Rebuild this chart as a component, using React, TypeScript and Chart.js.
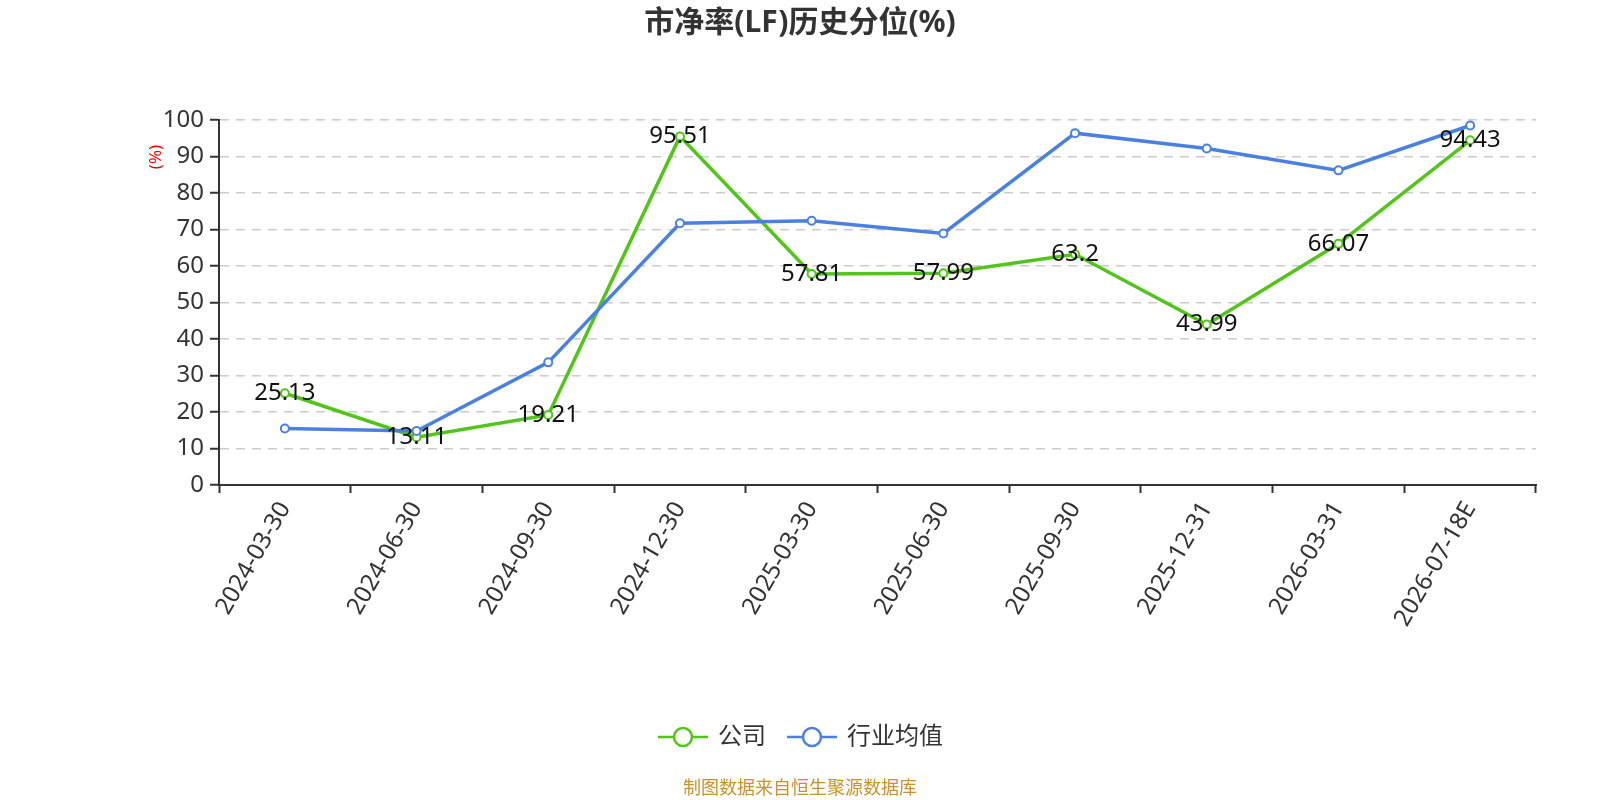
import { useEffect, useRef } from "react"
import { Chart, registerables } from "chart.js"

Chart.register(...registerables)

const categories = [
  "2024-03-30",
  "2024-06-30",
  "2024-09-30",
  "2024-12-30",
  "2025-03-30",
  "2025-06-30",
  "2025-09-30",
  "2025-12-31",
  "2026-03-31",
  "2026-07-18E",
]
const companyValues = [25.13, 13.11, 19.21, 95.51, 57.81, 57.99, 63.2, 43.99, 66.07, 94.43]
const industryValues = [15.5, 14.8, 33.6, 71.7, 72.4, 68.9, 96.4, 92.2, 86.2, 98.5]
const seriesNames = ["公司", "行业均值"]
const titleText = "市净率(LF)历史分位(%)"
const footerText = "制图数据来自恒生聚源数据库"

const GREEN = "#52c41a"
const BLUE = "#4a80e0"
const FONT = '"Noto Sans", "Noto Sans CJK SC", sans-serif'

// titles, legend, footer and value labels drawn on the canvas
const decorations = {
  id: "decorations",
  afterDatasetsDraw(chart: Chart) {
    const ctx = chart.ctx
    ctx.save()

    // value labels on the company series
    const meta = chart.getDatasetMeta(0)
    ctx.font = `24px ${FONT}`
    ctx.fillStyle = "#111"
    ctx.textAlign = "center"
    ctx.textBaseline = "middle"
    meta.data.forEach((pt, i) => {
      ctx.fillText(String(companyValues[i]), pt.x, pt.y)
    })

    // title
    ctx.font = `bold 30px ${FONT}`
    ctx.fillStyle = "#333"
    ctx.fillText(titleText, chart.width / 2, 23)

    // y unit
    ctx.save()
    ctx.translate(156, 157)
    ctx.rotate(-Math.PI / 2)
    ctx.font = `17px ${FONT}`
    ctx.fillStyle = "red"
    ctx.fillText("(%)", 0, 0)
    ctx.restore()

    // legend
    const legendY = 737
    const items = [
      { x: 658, color: GREEN, name: seriesNames[0] },
      { x: 787, color: BLUE, name: seriesNames[1] },
    ]
    items.forEach((it) => {
      ctx.strokeStyle = it.color
      ctx.lineWidth = 2.5
      ctx.beginPath()
      ctx.moveTo(it.x, legendY)
      ctx.lineTo(it.x + 50, legendY)
      ctx.stroke()
      ctx.beginPath()
      ctx.arc(it.x + 25, legendY, 9, 0, Math.PI * 2)
      ctx.fillStyle = "#fff"
      ctx.fill()
      ctx.stroke()
      ctx.font = `24px ${FONT}`
      ctx.fillStyle = "#333"
      ctx.textAlign = "left"
      ctx.fillText(it.name, it.x + 60, legendY)
    })

    // footer
    ctx.font = `18px ${FONT}`
    ctx.fillStyle = "#c8922a"
    ctx.textAlign = "center"
    ctx.fillText(footerText, chart.width / 2, 789)

    ctx.restore()
  },
}

export default function App() {
  const chartRef = useRef<HTMLCanvasElement>(null)
  const chartInstance = useRef<Chart | null>(null)

  useEffect(() => {
    document.body.style.margin = "0"
    document.body.style.overflow = "hidden"
    if (!chartRef.current) return
    if (chartInstance.current) chartInstance.current.destroy()

    chartInstance.current = new Chart(chartRef.current, {
      type: "line",
      data: {
        labels: categories,
        datasets: [
          {
            label: seriesNames[0],
            data: companyValues,
            borderColor: GREEN,
            backgroundColor: "#fff",
            pointBorderColor: GREEN,
            pointBackgroundColor: "#fff",
            borderWidth: 3.5,
            pointRadius: 4,
            pointBorderWidth: 2,
            tension: 0,
            order: 1,
          },
          {
            label: seriesNames[1],
            data: industryValues,
            borderColor: BLUE,
            backgroundColor: "#fff",
            pointBorderColor: BLUE,
            pointBackgroundColor: "#fff",
            borderWidth: 3.5,
            pointRadius: 4,
            pointBorderWidth: 2,
            tension: 0,
            order: 0,
          },
        ],
      },
      options: {
        animation: false,
        responsive: true,
        maintainAspectRatio: false,
        layout: { padding: { top: 120, right: 64, bottom: 0, left: 0 } },
        plugins: {
          legend: { display: false },
          tooltip: { enabled: false },
          title: { display: false },
        },
        scales: {
          x: {
            offset: true,
            afterFit: (scale) => {
              scale.height = 315
            },
            grid: {
              offset: true,
              drawOnChartArea: false,
              drawTicks: true,
              tickLength: 8,
              tickColor: "#333",
              tickWidth: 2,
            },
            border: { display: true, color: "#333", width: 2 },
            ticks: {
              minRotation: 60,
              maxRotation: 60,
              autoSkip: false,
              padding: 4,
              color: "#333",
              font: { family: FONT, size: 24 },
            },
          },
          y: {
            min: 0,
            max: 100,
            afterFit: (scale) => {
              scale.width = 219
            },
            grid: {
              color: "#ccc",
              lineWidth: 1.5,
              tickLength: 9,
              tickColor: "#333",
              tickWidth: 2,
            },
            border: { display: true, color: "#333", width: 2, dash: [9, 7] },
            ticks: {
              stepSize: 10,
              padding: 6,
              color: "#333",
              font: { family: FONT, size: 24 },
            },
          },
        },
      },
      plugins: [decorations],
    })

    return () => {
      if (chartInstance.current) {
        chartInstance.current.destroy()
        chartInstance.current = null
      }
    }
  }, [])

  return (
    <div style={{ width: 1600, height: 800, position: "relative" }}>
      <canvas ref={chartRef}></canvas>
    </div>
  )
}
